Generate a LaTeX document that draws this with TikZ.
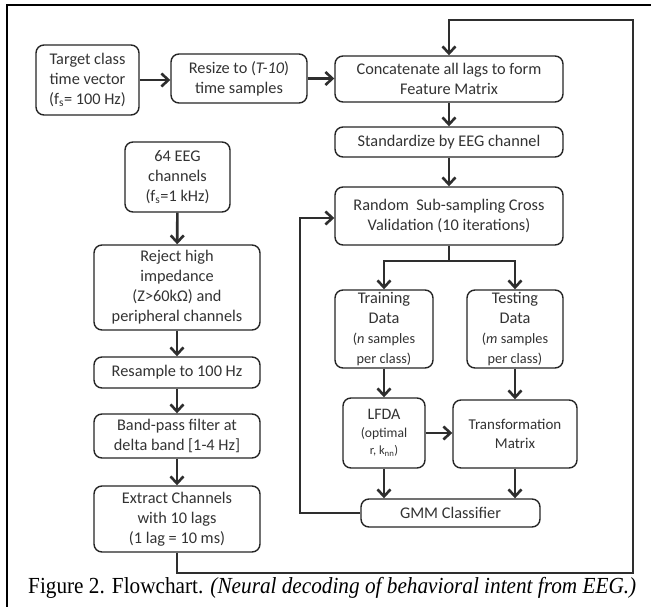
\documentclass[tikz,border=0pt]{standalone}
\usepackage{fontspec}
\setmainfont{Carlito}
\newfontfamily\capfont{Liberation Serif}
\usetikzlibrary{arrows.meta}
\definecolor{boxc}{HTML}{262626}
\definecolor{txtc}{HTML}{333333}
\definecolor{arrc}{HTML}{2E2E2E}
\newcommand{\smalltxt}{\fontsize{14.3}{17}\selectfont}
\tikzset{
  box/.style={draw=boxc, line width=1.4pt, rounded corners=8pt, fill=white,
    align=center, inner sep=0pt, text=txtc, font=\fontsize{16.3}{20}\selectfont},
  conn/.style={draw=arrc, line width=2.6pt},
  arr/.style={conn, -{Straight Barb[length=7pt,width=13pt]}}
}
\begin{document}
\begin{tikzpicture}[x=1pt,y=-1pt]
\useasboundingbox (0,0) rectangle (651,607);
\fill[white] (0,0) rectangle (651,607);
% frame (cropped)
\draw[black, line width=2pt] (7,607) -- (7,5) -- (651,5);
% nodes
\node[box, minimum width=103pt, minimum height=70pt] (tgt) at (87.5,80) {Target class\\time vector\\(f\textsubscript{s}= 100 Hz)};
\node[box, minimum width=136pt, minimum height=49pt] (rsz) at (239,78.5) {Resize to (\textit{T-10})\\time samples};
\node[box, minimum width=228pt, minimum height=46pt] (cat) at (449,79) {Concatenate all lags to form\\Feature Matrix};
\node[box, minimum width=228pt, minimum height=30pt] (std) at (449,142) {Standardize by EEG channel};
\node[box, minimum width=228pt, minimum height=58pt] (rnd) at (449,216) {Random\ \ Sub-sampling Cross\\Validation (10 iterations)};
\node[box, minimum width=105pt, minimum height=70pt] (eeg) at (177.5,177) {64 EEG\\channels\\(f\textsubscript{s}=1 kHz)};
\node[box, minimum width=166pt, minimum height=85pt] (rej) at (177,287.5) {Reject high\\impedance\\(Z>60kΩ) and\\peripheral channels};
\node[box, minimum width=166pt, minimum height=31pt] (res) at (177,372.5) {Resample to 100 Hz};
\node[box, minimum width=166pt, minimum height=44pt] (bpf) at (177,436) {Band-pass filter at\\delta band [1-4 Hz]};
\node[box, minimum width=166pt, minimum height=66pt] (ext) at (177,519) {Extract Channels\\with 10 lags\\(1 lag = 10 ms)};
\node[box, minimum width=98pt, minimum height=78pt] (trn) at (384,329) {Training\\Data\\{\smalltxt (\textit{n} samples}\\{\smalltxt per class)}};
\node[box, minimum width=96pt, minimum height=78pt] (tst) at (515,329) {Testing\\Data\\{\smalltxt (\textit{m} samples}\\{\smalltxt per class)}};
\node[box, font=\fontsize{16}{17.5}\selectfont, minimum width=82pt, minimum height=70pt] (lfda) at (384,433) {LFDA\\{\fontsize{13.6}{17}\selectfont (optimal}\\{\fontsize{12.5}{17}\selectfont r, k\textsubscript{nn})}};
\node[box, font=\fontsize{15}{18.5}\selectfont, minimum width=124pt, minimum height=68pt] (trm) at (515,434) {Transformation\\Matrix};
\node[box, minimum width=179pt, minimum height=28pt] (gmm) at (450.5,513) {GMM Classifier};
% connectors
\draw[arr] (tgt.east) -- (tgt.east -| rsz.west);
\draw[arr] (rsz.east) -- (rsz.east -| cat.west);
\draw[arr] (cat) -- (std);
\draw[arr] (std) -- (rnd);
\coordinate (sp) at (449,261);
\draw[conn] (rnd.south) -- (sp);
\draw[arr] (sp) -| (trn.north);
\draw[arr] (sp) -| (tst.north);
\draw[arr] (trn) -- (lfda);
\draw[arr] (tst) -- (trm);
\draw[arr] (lfda.east) -- (lfda.east -| trm.west);
\draw[arr] (lfda.south) -- (lfda.south |- gmm.north);
\draw[arr] (trm.south) -- (trm.south |- gmm.north);
\coordinate (lp) at (300,218);
\draw[arr] (gmm.west) -| (lp) -- (lp -| rnd.west);
\draw[arr] (eeg) -- (rej);
\draw[arr] (rej) -- (res);
\draw[arr] (res) -- (bpf);
\draw[arr] (bpf) -- (ext);
\coordinate (fb1) at (177,573);
\coordinate (fb2) at (633,20);
\draw[arr] (ext.south) -- (fb1) -| (fb2) -| (cat.north);
% caption
\node[anchor=base west, inner sep=0pt, font=\capfont\fontsize{23}{25}\selectfont] (cap) at (28,593) {\resizebox{608pt}{\height}{Figure 2. Flowchart. \textit{(Neural decoding of behavioral intent from EEG.)}}};
\end{tikzpicture}
\end{document}
